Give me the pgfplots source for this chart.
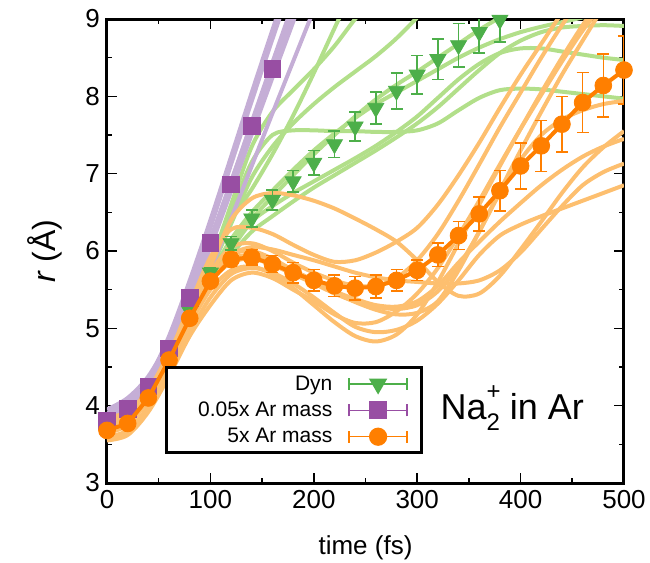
\documentclass[border=0pt]{standalone}
\usepackage{fontspec}
\setmainfont{Liberation Sans}
\usepackage{pgfplots}
\usepackage{pgfplotstable}
\pgfplotsset{compat=1.18}

\definecolor{dyn}{RGB}{77,175,74}
\definecolor{dynlt}{RGB}{178,223,138}
\definecolor{lgt}{RGB}{152,78,163}
\definecolor{lgtlt}{RGB}{197,174,214}
\definecolor{hvy}{RGB}{255,127,0}
\definecolor{hvylt}{RGB}{253,191,111}

% individual trajectories, dynamic (regular) Ar mass
\pgfplotstableread{
t   g1    g2    g3    g4    g5    g6    g7    g8
0   3.72  3.78  3.74  3.80  3.70  3.68  3.76  3.73
20  3.84  3.90  3.86  3.92  3.82  3.80  3.88  3.85
40  4.16  4.22  4.18  4.24  4.12  4.08  4.18  4.15
60  4.66  4.75  4.68  4.75  4.58  4.54  4.66  4.62
80  5.24  5.35  5.22  5.32  5.12  5.08  5.20  5.16
100 5.80  5.85  5.75  5.80  5.65  5.60  5.70  5.68
120 6.40  6.60  6.35  6.50  6.02  5.95  6.15  6.10
140 6.80  7.35  6.95  7.15  6.38  6.25  6.50  6.42
160 7.25  7.80  7.35  7.50  6.58  6.45  6.78  6.70
180 7.75  8.08  7.65  7.56  6.75  6.64  7.05  6.98
200 8.30  8.35  7.90  7.56  6.90  6.82  7.30  7.25
220 8.88  8.65  8.12  7.55  7.05  6.98  7.52  7.50
240 9.45  9.00  8.32  7.55  7.20  7.14  7.72  7.74
260 10.0  9.30  8.52  7.54  7.36  7.30  7.90  7.96
280 10.5  9.60  8.75  7.54  7.54  7.47  8.05  8.15
300 11.0  9.90  9.02  7.56  7.74  7.65  8.20  8.32
320 11.5  10.2  9.30  7.65  7.98  7.86  8.35  8.50
340 12.0  10.5  9.60  7.82  8.22  8.10  8.50  8.68
360 12.5  10.8  9.90  7.98  8.42  8.34  8.63  8.86
380 13.0  11.1  10.2  8.08  8.56  8.56  8.74  9.02
400 13.5  11.4  10.5  8.10  8.62  8.72  8.83  9.18
420 14.0  11.7  10.8  8.09  8.62  8.83  8.90  9.34
440 14.5  12.0  11.1  8.06  8.58  8.89  8.96  9.50
460 15.0  12.3  11.4  8.03  8.54  8.91  9.02  9.66
480 15.5  12.6  11.7  8.00  8.50  8.92  9.08  9.82
500 16.0  12.9  12.0  7.97  8.47  8.91  9.12  9.98
}\dyntraj

% individual trajectories, 0.05x Ar mass
\pgfplotstableread{
t   p1    p2    p3    p4    p5    p6    p7    p8
0   3.70  3.75  3.80  3.85  3.90  3.95  3.72  3.82
20  3.86  3.90  3.95  4.00  4.05  4.10  3.88  3.98
40  4.19  4.20  4.24  4.34  4.33  4.38  4.12  4.28
60  4.76  4.70  4.72  4.90  4.78  4.85  4.52  4.77
80  5.50  5.35  5.36  5.62  5.38  5.47  5.08  5.42
100 6.30  6.06  6.07  6.40  6.05  6.16  5.75  6.13
120 7.12  6.82  6.83  7.22  6.77  6.90  6.42  6.89
140 7.94  7.58  7.60  8.05  7.51  7.65  7.10  7.67
160 8.74  8.32  8.36  8.86  8.24  8.40  7.78  8.44
180 9.52  9.05  9.10  9.66  8.96  9.13  8.45  9.20
200 10.3  9.80  9.85  10.4  9.70  9.85  9.12  9.95
220 11.0  10.5  10.6  11.1  10.4  10.6  9.80  10.7
}\lgttraj

% individual trajectories, 5x Ar mass
\pgfplotstableread{
t   o1    o2    o3    o4    o5    o6    o7    o8    o9    o10
0   3.60  3.65  3.70  3.75  3.58  3.80  3.55  3.72  3.68  3.85
20  3.68  3.75  3.80  3.82  3.66  3.88  3.62  3.80  3.76  3.92
40  4.00  4.10  4.12  4.10  3.97  4.18  3.92  4.12  4.08  4.20
60  4.55  4.65  4.60  4.55  4.43  4.65  4.38  4.62  4.56  4.68
80  5.20  5.30  5.15  5.05  4.95  5.18  4.90  5.18  5.10  5.22
100 5.80  5.92  5.65  5.50  5.40  5.65  5.30  5.72  5.60  5.70
120 6.40  6.28  5.95  5.75  5.70  5.95  5.62  6.05  5.85  5.90
140 6.68  6.30  6.00  5.80  5.78  6.05  5.72  6.10  5.90  5.95
160 6.75  6.22  5.90  5.70  5.72  6.02  5.65  6.00  5.82  5.88
180 6.72  6.08  5.75  5.52  5.58  5.95  5.50  5.85  5.70  5.75
200 6.65  5.95  5.60  5.30  5.40  5.88  5.35  5.72  5.58  5.62
220 6.55  5.86  5.46  5.08  5.20  5.80  5.18  5.62  5.45  5.48
240 6.42  5.88  5.34  4.90  5.02  5.72  5.07  5.55  5.35  5.38
260 6.28  5.98  5.24  4.83  4.95  5.66  5.08  5.55  5.28  5.30
280 6.12  6.12  5.18  4.92  4.98  5.62  5.22  5.65  5.25  5.28
300 5.88  6.30  5.20  5.18  5.10  5.60  5.45  5.88  5.30  5.35
320 5.60  6.60  5.35  5.60  5.32  5.58  5.78  6.22  5.48  5.55
340 5.42  6.98  5.75  6.10  5.62  5.58  6.20  6.65  5.80  5.85
360 5.45  7.40  6.25  6.60  5.95  5.62  6.65  7.12  6.25  6.12
380 5.68  7.85  6.78  7.10  6.20  5.75  7.12  7.60  6.75  6.38
400 6.02  8.28  7.30  7.58  6.34  5.98  7.58  8.05  7.18  6.62
420 6.38  8.68  7.80  8.05  6.45  6.28  8.02  8.50  7.50  6.85
440 6.75  9.08  8.28  8.50  6.55  6.58  8.45  8.92  7.70  7.05
460 7.08  9.45  8.72  8.92  6.65  6.85  8.85  9.30  7.82  7.22
480 7.34  9.80  9.15  9.30  6.75  7.02  9.20  9.65  7.90  7.35
500 7.55  10.1  9.55  9.65  6.85  7.13  9.55  10.0  7.94  7.45
}\hvytraj

% averages with error bars
\pgfplotstableread{
t   r     e
0   3.74  0.02
20  3.85  0.03
40  4.16  0.03
60  4.65  0.04
80  5.22  0.05
100 5.72  0.06
120 6.10  0.09
140 6.42  0.11
160 6.66  0.13
180 6.90  0.14
200 7.14  0.16
220 7.38  0.17
240 7.61  0.19
260 7.85  0.21
280 8.07  0.23
300 8.28  0.25
320 8.48  0.26
340 8.66  0.28
360 8.83  0.27
380 8.99  0.29
}\dynavg

\pgfplotstableread{
t   r     e
0   3.80  0.02
20  3.96  0.02
40  4.25  0.03
60  4.74  0.03
80  5.39  0.03
100 6.10  0.04
120 6.86  0.04
140 7.62  0.05
160 8.35  0.05
}\lgtavg

\pgfplotstableread{
t   r     e
0   3.68  0.04
20  3.77  0.04
40  4.10  0.05
60  4.59  0.05
80  5.13  0.06
100 5.61  0.07
120 5.89  0.09
140 5.92  0.10
160 5.83  0.11
180 5.72  0.13
200 5.62  0.14
220 5.55  0.14
240 5.52  0.15
260 5.54  0.15
280 5.62  0.14
300 5.75  0.13
320 5.95  0.15
340 6.20  0.18
360 6.48  0.22
380 6.78  0.26
400 7.10  0.30
420 7.36  0.33
440 7.64  0.36
460 7.92  0.39
480 8.14  0.41
500 8.34  0.44
}\hvyavg

\pgfplotsset{
  errleg/.style={legend image code/.code={
      \draw[##1, mark=none, line width=0.7pt]
        (0pt,0pt) -- (29pt,0pt)
        (0pt,-3pt) -- (0pt,3pt)
        (29pt,-3pt) -- (29pt,3pt);
      \draw[##1, line width=0.7pt] plot coordinates {(14.5pt,0pt)};
  }},
  traj/.style={line width=2pt, smooth, forget plot},
  avg/.style={only marks, forget plot,
    error bars/.cd, y dir=both, y explicit,
    error bar style={line width=0.8pt, #1},
    error mark options={rotate=90, mark size=3pt, line width=0.8pt, #1}},
}
\newcommand{\legtext}[1]{\makebox[74pt][r]{\rule[-2.8pt]{0pt}{10.5pt}#1}}

\begin{document}
\begin{tikzpicture}
\useasboundingbox (-53.5pt,-40pt) rectangle (271.5pt,241.5pt);
\begin{axis}[
  scale only axis, width=258.5pt, height=232pt,
  xmin=0, xmax=500, ymin=3, ymax=9,
  xtick={0,100,...,500}, minor xtick={50,150,...,450},
  ytick={3,4,...,9}, minor ytick={3.5,4.5,...,8.5},
  tick align=inside, major tick length=5pt, minor tick length=2.5pt,
  tick style={line width=0.8pt, black},
  axis line style={line width=1.5pt},
  ticklabel style={font=\fontsize{13}{15}\selectfont},
  /pgf/number format/assume math mode=true,
  xlabel={time (fs)}, ylabel={\textit{r} (Å)},
  every axis x label/.style={at={(axis description cs:0.5,0)}, yshift=-32.5pt, anchor=center, font=\fontsize{13}{15}\selectfont},
  every axis y label/.style={at={(axis description cs:0,0.5)}, xshift=-31pt, rotate=90, anchor=center, font=\fontsize{16}{19}\selectfont},
  clip mode=individual,
  legend style={at={(axis cs:56,4.51)}, anchor=north west, draw=black,
    line width=1.5pt, fill=white, font=\fontsize{10.5}{12}\selectfont,
    inner xsep=7pt, inner ysep=1.5pt, row sep=0pt, column sep=6pt},
  legend cell align=right, legend plot pos=right,
]
% trajectories
\pgfplotsinvokeforeach{g1,g2,g3,g4,g5,g6,g7,g8}{
  \addplot[dynlt, traj] table[x=t, y=#1] {\dyntraj};
}
\pgfplotsinvokeforeach{p1,p2,p3,p4,p5,p6,p7,p8}{
  \addplot[lgtlt, traj] table[x=t, y=#1] {\lgttraj};
}
\pgfplotsinvokeforeach{o1,o2,o3,o4,o5,o6,o7,o8,o9,o10}{
  \addplot[hvylt, traj] table[x=t, y=#1] {\hvytraj};
}

% averages
\addplot[dyn, mark=triangle*, mark size=4.6pt, mark options={rotate=180, fill=dyn, draw=dyn}, avg=dyn]
  table[x=t, y=r, y error=e] {\dynavg};
\addplot[lgt, mark=square*, mark size=4.2pt, mark options={fill=lgt, draw=lgt}, avg=lgt]
  table[x=t, y=r, y error=e] {\lgtavg};
\addplot[hvy, line width=2pt, forget plot] table[x=t, y=r] {\hvyavg};
\addplot[hvy, mark=*, mark size=4.2pt, mark options={fill=hvy, draw=hvy}, avg=hvy]
  table[x=t, y=r, y error=e] {\hvyavg};

% legend
\addlegendimage{errleg, dyn, mark=triangle*, mark size=4.6pt, mark options={rotate=180, fill=dyn, draw=dyn}}
\addlegendentry{\legtext{Dyn}}
\addlegendimage{errleg, lgt, mark=square*, mark size=4.2pt, mark options={fill=lgt, draw=lgt}}
\addlegendentry{\legtext{0.05x Ar mass}}
\addlegendimage{errleg, hvy, mark=*, mark size=4.2pt, mark options={fill=hvy, draw=hvy}}
\addlegendentry{\legtext{5x Ar mass}}

\node[font=\fontsize{18}{21}\selectfont] at (axis cs:392,3.97)
  {Na\rlap{\raisebox{0.55em}{\fontsize{12}{14}\selectfont +}}\raisebox{-0.3em}{\fontsize{12}{14}\selectfont 2} in Ar};
\end{axis}
\end{tikzpicture}
\end{document}
